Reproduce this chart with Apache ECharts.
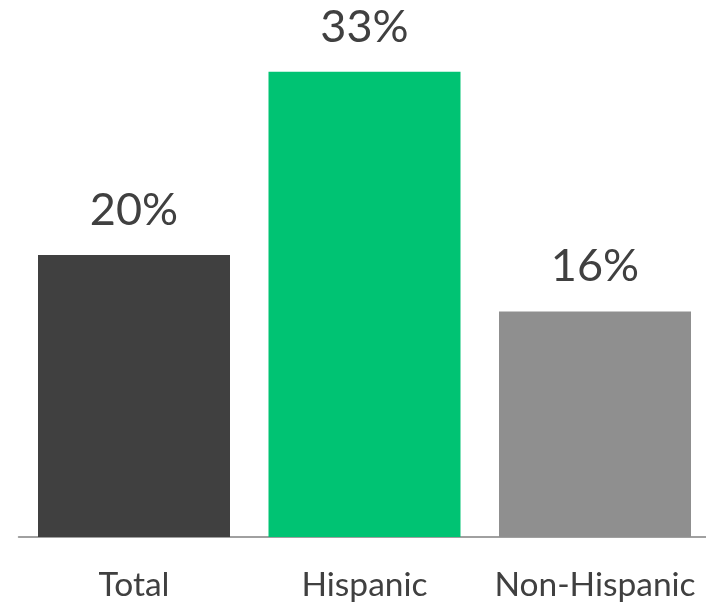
<!DOCTYPE html>
<html>
<head>
<meta charset="utf-8">
<script src="https://cdn.jsdelivr.net/npm/echarts@6/dist/echarts.min.js"></script>
<style>
  html, body { margin: 0; padding: 0; background: #fff; }
  #chart { width: 706px; height: 603px; }
</style>
</head>
<body>
<div id="chart"></div>
<script>
const categories = ["Total", "Hispanic", "Non-Hispanic"]
const values = [20, 33, 16]
const barColors = ["#404040", "#00C373", "#8F8F8F"]

const chart = echarts.init(document.getElementById("chart"))

chart.setOption({
  animation: false,
  grid: {
    left: 18.75,
    top: 43.5,
    bottom: 66,
    width: 691.5,
    outerBoundsMode: "none",
  },
  xAxis: {
    type: "category",
    data: categories,
    axisTick: { show: false },
    axisLine: { lineStyle: { color: "#A0A0A0", width: 2 } },
    axisLabel: {
      interval: 0,
      color: "#404040",
      fontFamily: "Lato",
      fontSize: 33.5,
      margin: 31,
    },
  },
  yAxis: {
    type: "value",
    min: 0,
    max: 35,
    show: false,
  },
  series: [
    {
      type: "bar",
      barWidth: 192,
      data: values.map((v, i) => ({ value: v, itemStyle: { color: barColors[i] } })),
      label: {
        show: true,
        position: "top",
        distance: 22,
        formatter: "{c}%",
        color: "#404040",
        fontFamily: "Lato",
        fontSize: 45,
      },
    },
  ],
})
</script>
</body>
</html>
